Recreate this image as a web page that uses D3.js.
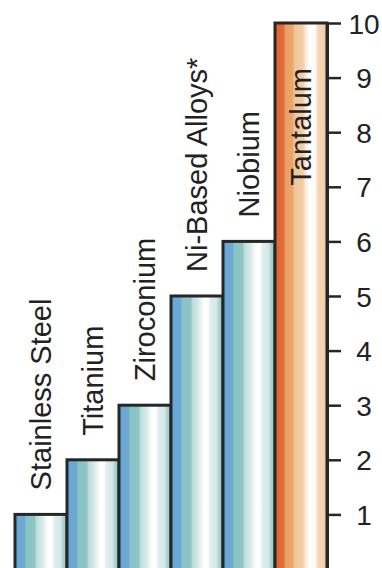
<!DOCTYPE html>
<html>
<head>
<meta charset="utf-8">
<script src="https://cdn.jsdelivr.net/npm/d3@7"></script>
<style>
  html, body { margin: 0; padding: 0; background: #fff; }
  svg { display: block; }
  text { font-family: "Liberation Sans", Arial, Helvetica, sans-serif; fill: #222; }
</style>
</head>
<body>
<svg id="chart" width="382" height="568"></svg>
<script>
const categories = ["Stainless Steel", "Titanium", "Ziroconium", "Ni-Based Alloys*", "Niobium", "Tantalum"];
const values = [1, 2, 3, 5, 6, 10];
const highlight = ["Tantalum"];
const tickValues = [1, 2, 3, 4, 5, 6, 7, 8, 9, 10];

const W = 382, H = 568;
const svg = d3.select("#chart");

const x = d3.scaleBand().domain(categories).range([15, 327]).padding(0);
const y = d3.scaleLinear().domain([0, 10]).range([569, 23]);

const defs = svg.append("defs");
function stripeGradient(id, stops) {
  const g = defs.append("linearGradient").attr("id", id)
    .attr("x1", "0").attr("x2", "1").attr("y1", "0").attr("y2", "0");
  stops.forEach(s => g.append("stop").attr("offset", s[0]).attr("stop-color", s[1]));
}
stripeGradient("blueGrad", [
  [0, "#6aa7d5"], [0.19, "#6ea9d3"], [0.21, "#88c3c6"], [0.38, "#8cc5c6"],
  [0.41, "#bcdcdb"], [0.52, "#d6e9e7"], [0.6, "#f2f8f7"], [0.64, "#ffffff"],
  [0.72, "#fbfdfd"], [0.76, "#e0eeec"], [0.88, "#d2e7e5"], [0.92, "#a6d2d2"], [1, "#9ccccc"]
]);
stripeGradient("orangeGrad", [
  [0, "#df6636"], [0.17, "#e26c3b"], [0.2, "#eba063"], [0.34, "#eda66a"],
  [0.37, "#f0c49a"], [0.54, "#f3cea8"], [0.58, "#fae5d1"], [0.66, "#ffffff"],
  [0.78, "#fefaf6"], [0.82, "#f5d8b9"], [1, "#f0ca9f"]
]);

const bars = svg.append("g").selectAll("rect")
  .data(categories.map((c, i) => ({ c, v: values[i] })))
  .join("rect")
  .attr("x", d => x(d.c))
  .attr("width", x.bandwidth())
  .attr("y", d => y(d.v))
  .attr("height", d => y(0) + 10 - y(d.v))
  .attr("fill", d => highlight.includes(d.c) ? "url(#orangeGrad)" : "url(#blueGrad)")
  .attr("stroke", "#262626")
  .attr("stroke-width", 3);

// Axis on the right
const axis = d3.axisRight(y).tickValues(tickValues).tickSize(14).tickSizeOuter(0).tickFormat(d3.format("d"));
const ag = svg.append("g").attr("transform", "translate(327,0)").call(axis);
ag.select(".domain").attr("stroke", "#262626").attr("stroke-width", 3);
ag.selectAll(".tick line").attr("stroke", "#262626").attr("stroke-width", 2.5);
ag.selectAll(".tick text")
  .attr("x", 37).attr("dy", "0.36em")
  .attr("text-anchor", "middle")
  .style("font-size", "28px")
  .style("font-family", "'Liberation Sans', Arial, sans-serif")
  .attr("fill", "#222");

// Bar labels (rotated)
const fs = 29;
const labelGap = 24;
svg.append("g").selectAll("text")
  .data(categories.map((c, i) => ({ c, v: values[i] })))
  .join("text")
  .attr("transform", d => {
    const cx = x(d.c) + x.bandwidth() / 2 + fs * 0.36;
    const inside = y(d.v) - labelGap - 130 < 0;
    const ty = inside ? y(d.v) + 45 : y(d.v) - labelGap;
    return `translate(${cx},${ty}) rotate(-90)`;
  })
  .attr("text-anchor", d => (y(d.v) - labelGap - 130 < 0) ? "end" : "start")
  .style("font-size", fs + "px")
  .text(d => d.c);
</script>
</body>
</html>
